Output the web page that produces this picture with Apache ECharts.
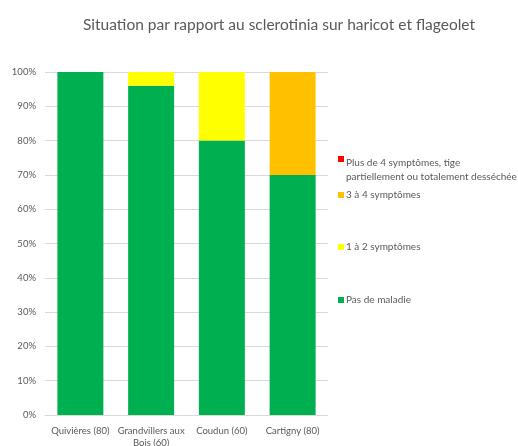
<!DOCTYPE html>
<html><head><meta charset="utf-8">
<script src="https://cdn.jsdelivr.net/npm/echarts@6/dist/echarts.min.js"></script>
<style>html,body{margin:0;padding:0;background:#fff}#c{width:518px;height:446px}</style>
</head><body><div id="c"></div>
<script>
const categories = ["Quivières (80)", "Grandvillers aux\nBois (60)", "Coudun (60)", "Cartigny (80)"];
const seriesNames = ["Pas de maladie", "1 à 2 symptômes", "3 à 4 symptômes", "Plus de 4 symptômes, tige\npartiellement ou totalement desséchée"];
const pasDeMaladie = [100, 96, 80, 70];
const unADeux = [0, 4, 20, 0];
const troisAQuatre = [0, 0, 0, 30];
const plusDeQuatre = [0, 0, 0, 0];
const colors = ["#00B050", "#FFFF00", "#FFC000", "#FF0000"];
const yTicks = [0, 10, 20, 30, 40, 50, 60, 70, 80, 90, 100];

const values = [pasDeMaladie, unADeux, troisAQuatre, plusDeQuatre];
const font = "Lato, 'Open Sans', sans-serif";
const chart = echarts.init(document.getElementById('c'));
const legendTops = [288, 235, 183, 151];
chart.setOption({
  animation: false,
  title: {
    text: "Situation par rapport au sclerotinia sur haricot et flageolet",
    left: 274, top: 12, textAlign: 'center',
    textStyle: { fontFamily: font, fontSize: 15.5, fontWeight: 'normal', color: '#595959' }
  },
  grid: { left: 45, right: 190, top: 72, bottom: 31, containLabel: false, outerBoundsMode: 'none' },
  legend: seriesNames.map((n, i) => ({
    data: [n], orient: 'vertical', left: 333, top: legendTops[i],
    itemWidth: 6, itemHeight: i === 3 ? 28 : 6, itemGap: 4,
    icon: i === 3 ? 'path://M0,0L6,0L6,6L0,6Z M0,28L0,28Z' : 'rect',
    textStyle: { fontFamily: font, fontSize: 10, color: '#595959', lineHeight: 14, padding: [0, 0, 0, -3] }
  })),
  xAxis: {
    type: 'category', data: categories,
    axisLine: { lineStyle: { color: '#D9D9D9' } },
    axisTick: { show: false },
    axisLabel: { fontFamily: font, fontSize: 9.5, color: '#595959', interval: 0, lineHeight: 12, margin: 10 }
  },
  yAxis: {
    type: 'value', min: 0, max: 100, interval: 10,
    axisLabel: { fontFamily: font, fontSize: 9.5, color: '#595959', formatter: v => v + '%', margin: 9 },
    splitLine: { lineStyle: { color: '#D9D9D9' } },
    axisLine: { show: false }, axisTick: { show: false }
  },
  series: seriesNames.map((n, i) => ({
    name: n, type: 'bar', stack: 's', data: values[i], barWidth: '65%',
    itemStyle: { color: colors[i] }
  }))
});
</script></body></html>
